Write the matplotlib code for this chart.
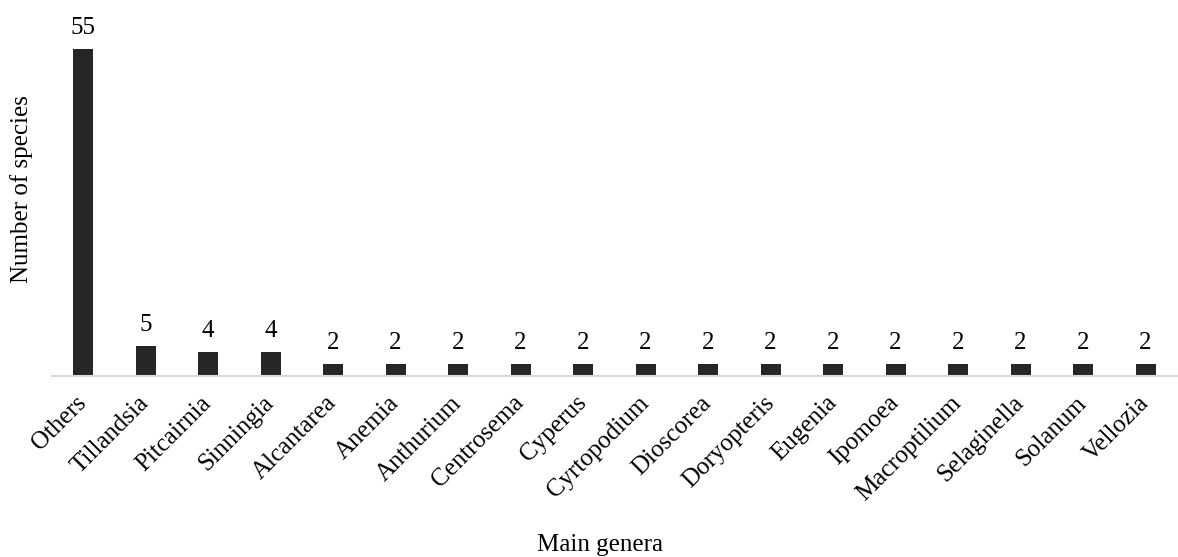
import matplotlib.pyplot as plt

genera = ["Others", "Tillandsia", "Pitcairnia", "Sinningia", "Alcantarea", "Anemia",
          "Anthurium", "Centrosema", "Cyperus", "Cyrtopodium", "Dioscorea",
          "Doryopteris", "Eugenia", "Ipomoea", "Macroptilium", "Selaginella",
          "Solanum", "Vellozia"]
species = [55, 5, 4, 4, 2, 2, 2, 2, 2, 2, 2, 2, 2, 2, 2, 2, 2, 2]

plt.rcParams['font.family'] = ['Liberation Serif', 'DejaVu Serif']

fig = plt.figure(figsize=(11.78, 5.57), dpi=100)
ax = fig.add_axes([0.044, 0.325, 0.955, 0.64])

x = range(len(genera))
ax.bar(x, species, width=0.32, color='#262626')
for i, v in zip(x, species):
    ax.text(i, v + 1.7, str(v), ha='center', va='bottom', fontsize=18)

ax.set_xlim(-0.5, len(genera) - 0.5)
ax.set_ylim(0, 60)
ax.set_xticks(list(x))
ax.set_xticklabels(genera, rotation=45, ha='right', va='center',
                   rotation_mode='anchor', fontsize=18)
ax.tick_params(axis='x', length=0, pad=17)
ax.set_yticks([])
for s in ['top', 'right', 'left']:
    ax.spines[s].set_visible(False)
ax.spines['bottom'].set_color('#d9d9d9')
ax.spines['bottom'].set_linewidth(1.5)

fig.text(0.018, 0.66, 'Number of species', rotation=90, ha='center', va='center', fontsize=18)
fig.text(0.509, 0.022, 'Main genera', ha='center', va='center', fontsize=18)

fig.savefig('out.png', dpi=100)
